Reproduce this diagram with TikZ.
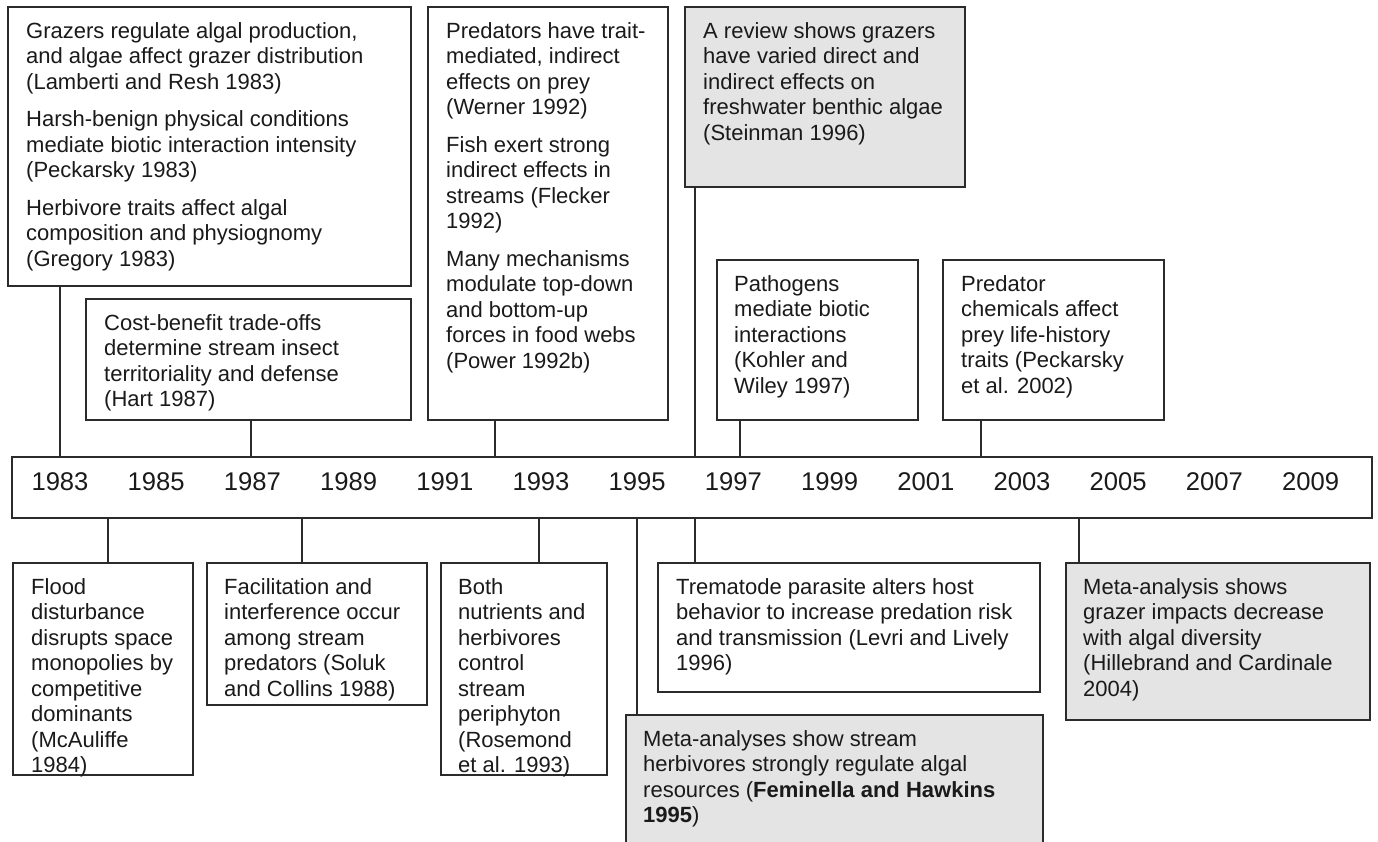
\documentclass[tikz,border=0pt]{standalone}
\usepackage{fontspec}
\setmainfont{Liberation Sans}
\usetikzlibrary{positioning}
\definecolor{lineDark}{HTML}{2B2B2B}
\definecolor{noteText}{HTML}{1A1A1A}
\definecolor{reviewFill}{HTML}{E4E4E4}

\begin{document}
\begin{tikzpicture}[
        x=1pt, y=-1pt,
        box/.style={
            draw=lineDark,
            line width=1.8pt,
            fill=white,
            anchor=north west,
            outer sep=0pt,
            inner sep=0pt
        },
        reviewbox/.style={
            box,
            fill=reviewFill
        },
        note/.style={
            anchor=north west,
            inner sep=0pt,
            align=left,
            text=noteText,
            font=\fontsize{22}{25.5}\selectfont
        },
        yearlabel/.style={
            text=noteText,
            inner sep=0pt,
            font=\fontsize{25.6}{30}\selectfont
        },
        stem/.style={
            draw=lineDark,
            line width=1.8pt
        }
    ]
    \useasboundingbox (0,0) rectangle (1378,841);

    % timeline bar
    \node[box, minimum width=1360pt, minimum height=61pt] (bar) at (12,457) {};
    \foreach \yr [count=\i from 0] in {1983,1985,...,2009}
        \node[yearlabel] (y\yr) at (60+96.2*\i, 482) {\yr};

    \coordinate (up83) at (60,457);
    \coordinate (up87) at (251,457);
    \coordinate (up92) at (495,457);
    \coordinate (up96) at (695,457);
    \coordinate (up97) at (740,457);
    \coordinate (up02) at (981,457);
    \coordinate (dn84) at (108,518);
    \coordinate (dn88) at (302,518);
    \coordinate (dn93) at (539,518);
    \coordinate (dn95) at (637,518);
    \coordinate (dn96) at (695,518);
    \coordinate (dn04) at (1079,518);

    % above the bar
    \node[box, minimum width=403pt, minimum height=279pt] (grazers) at (8,7) {};
    \node[note] (grazersText) at (26,22)
        {Grazers regulate algal production,\\
         and algae affect grazer distribution\\
         (Lamberti and Resh 1983)\\[12pt]
         Harsh-benign physical conditions\\
         mediate biotic interaction intensity\\
         (Peckarsky 1983)\\[12pt]
         Herbivore traits affect algal\\
         composition and physiognomy\\
         (Gregory 1983)};

    \node[box, minimum width=325pt, minimum height=121pt] (hart) at (86,299) {};
    \node[note] (hartText) at (104,314)
        {Cost-benefit trade-offs\\
         determine stream insect\\
         territoriality and defense\\
         (Hart 1987)};

    \node[box, minimum width=240pt, minimum height=413pt] (power) at (428,7) {};
    \node[note] (powerText) at (446,22)
        {Predators have trait-\\
         mediated, indirect\\
         effects on prey\\
         (Werner 1992)\\[12pt]
         Fish exert strong\\
         indirect effects in\\
         streams (Flecker\\
         1992)\\[12pt]
         Many mechanisms\\
         modulate top-down\\
         and bottom-up\\
         forces in food webs\\
         (Power 1992b)};

    \node[reviewbox, minimum width=280pt, minimum height=180pt] (steinman) at (685,7) {};
    \node[note] (steinmanText) at (703,22)
        {A review shows grazers\\
         have varied direct and\\
         indirect effects on\\
         freshwater benthic algae\\
         (Steinman 1996)};

    \node[box, minimum width=201pt, minimum height=160pt] (pathogens) at (717,260) {};
    \node[note] (pathogensText) at (734,275)
        {Pathogens\\
         mediate biotic\\
         interactions\\
         (Kohler and\\
         Wiley 1997)};

    \node[box, minimum width=221pt, minimum height=160pt] (chemicals) at (943,260) {};
    \node[note] (chemicalsText) at (961,275)
        {Predator\\
         chemicals affect\\
         prey life-history\\
         traits (Peckarsky\\
         et al. 2002)};

    % below the bar
    \node[box, minimum width=180pt, minimum height=212pt] (flood) at (13,563) {};
    \node[note] (floodText) at (31,578)
        {Flood\\
         disturbance\\
         disrupts space\\
         monopolies by\\
         competitive\\
         dominants\\
         (McAuliffe\\
         1984)};

    \node[box, minimum width=220pt, minimum height=142pt] (facilitation) at (207,563) {};
    \node[note] (facilitationText) at (224,578)
        {Facilitation and\\
         interference occur\\
         among stream\\
         predators (Soluk\\
         and Collins 1988)};

    \node[box, minimum width=166pt, minimum height=212pt] (nutrients) at (441,563) {};
    \node[note] (nutrientsText) at (458,578)
        {Both\\
         nutrients and\\
         herbivores\\
         control\\
         stream\\
         periphyton\\
         (Rosemond\\
         et al. 1993)};

    \node[box, minimum width=382pt, minimum height=129pt] (trematode) at (658,563) {};
    \node[note] (trematodeText) at (676,578)
        {Trematode parasite alters host\\
         behavior to increase predation risk\\
         and transmission (Levri and Lively\\
         1996)};

    \node[reviewbox, minimum width=417pt, minimum height=140pt] (feminella) at (626,715) {};
    \node[note] (feminellaText) at (643,730)
        {Meta-analyses show stream\\
         herbivores strongly regulate algal\\
         resources (\textbf{Feminella and Hawkins}\\
         \textbf{1995})};

    \node[reviewbox, minimum width=304pt, minimum height=157pt] (hillebrand) at (1066,563) {};
    \node[note] (hillebrandText) at (1083,578)
        {Meta-analysis shows\\
         grazer impacts decrease\\
         with algal diversity\\
         (Hillebrand and Cardinale\\
         2004)};

    % stems
    \draw[stem] (up83 |- grazers.south) -- (up83);
    \draw[stem] (up87 |- hart.south) -- (up87);
    \draw[stem] (up92 |- power.south) -- (up92);
    \draw[stem] (up96 |- steinman.south) -- (up96);
    \draw[stem] (up97 |- pathogens.south) -- (up97);
    \draw[stem] (up02 |- chemicals.south) -- (up02);
    \draw[stem] (dn84) -- (dn84 |- flood.north);
    \draw[stem] (dn88) -- (dn88 |- facilitation.north);
    \draw[stem] (dn93) -- (dn93 |- nutrients.north);
    \draw[stem] (dn95) -- (dn95 |- feminella.north);
    \draw[stem] (dn96) -- (dn96 |- trematode.north);
    \draw[stem] (dn04) -- (dn04 |- hillebrand.north);

\end{tikzpicture}
\end{document}
